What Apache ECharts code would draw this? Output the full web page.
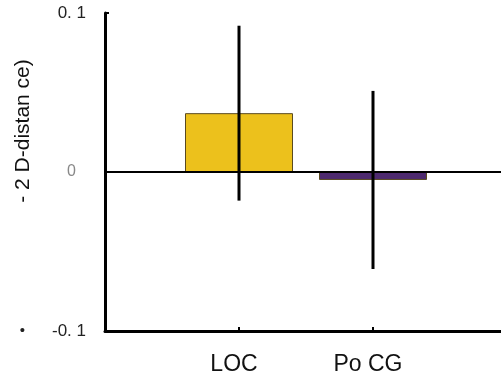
<!DOCTYPE html>
<html><head><meta charset="utf-8">
<script src="https://cdn.jsdelivr.net/npm/echarts@6/dist/echarts.min.js"></script>
<style>html,body{margin:0;padding:0;background:#fff}#c{width:501px;height:383px}</style>
</head><body><div id="c"></div>
<script>
const categories = ['LOC', 'Po CG'];
const meanValues = [0.037, -0.005];
const errLow = [-0.018, -0.061];
const errHigh = [0.092, 0.051];
const barColors = ['#ECC11C', '#4E2A6F'];
const yTicks = [-0.1, 0, 0.1];
const yTickLabels = ['-0. 1', '0', '0. 1'];
const yName = '- 2 D-distan ce)';

const FONT = '"Liberation Sans", Arial, sans-serif';
const axisCats = [''].concat(categories, ['']);
const barData = [null].concat(meanValues.map((v, i) => ({ value: v, itemStyle: { color: barColors[i] } })), [null]);
const errData = categories.map((c, i) => [i + 1, errLow[i], errHigh[i]]);

const chart = echarts.init(document.getElementById('c'), null, { renderer: 'canvas' });
chart.setOption({
  animation: false,
  backgroundColor: '#fff',
  grid: { left: 105, top: 13, bottom: 52, width: 402, containLabel: false, outerBoundsMode: 'none' },
  graphic: [{
    type: 'text',
    x: 23, y: 131,
    rotation: Math.PI / 2,
    style: { text: yName, fontSize: 21, fill: '#111', fontFamily: FONT, align: 'center', verticalAlign: 'middle' }
  }],
  xAxis: {
    type: 'category',
    data: axisCats,
    boundaryGap: false,
    axisLine: { onZero: false, lineStyle: { color: '#000', width: 3 } },
    axisTick: { inside: true, length: 4, lineStyle: { color: '#000', width: 2 },
      interval: (i) => i >= 1 && i <= categories.length },
    axisLabel: { interval: 0, fontSize: 23, color: '#111', margin: 22, fontFamily: FONT, padding: [0, 10, 0, 0] },
    splitLine: { show: false }
  },
  yAxis: {
    type: 'value',
    min: -0.1, max: 0.1, interval: 0.1,
    axisLine: { show: true, lineStyle: { color: '#000', width: 3 } },
    axisTick: { show: true, inside: true, length: 4, lineStyle: { color: '#000', width: 2 } },
    splitLine: { show: false },
    axisLabel: {
      margin: 19,
      fontFamily: FONT,
      formatter: (v) => {
        const idx = yTicks.findIndex(t => Math.abs(t - v) < 1e-9);
        const lab = idx >= 0 ? yTickLabels[idx] : '';
        if (Math.abs(v) < 1e-9) return '{z|' + lab + '}';
        if (v < 0) return '{d|•}{n|' + lab + '}';
        return '{n|' + lab + '}';
      },
      rich: {
        n: { fontSize: 17, color: '#222', fontFamily: FONT },
        z: { fontSize: 16, color: '#888', fontFamily: FONT, padding: [0, 10, 0, 0] },
        d: { fontSize: 15, color: '#222', fontFamily: FONT, padding: [0, 27, 0, 0] }
      }
    }
  },
  series: [
    {
      type: 'bar',
      data: barData,
      barWidth: 108,
      itemStyle: { borderColor: '#5a4a20', borderWidth: 1 },
      markLine: {
        silent: true, symbol: 'none', label: { show: false },
        lineStyle: { color: '#000', width: 2, type: 'solid' },
        data: [{ yAxis: 0 }]
      }
    },
    {
      type: 'custom',
      data: errData,
      z: 10,
      renderItem: (params, api) => {
        const lo = api.coord([api.value(0), api.value(1)]);
        const hi = api.coord([api.value(0), api.value(2)]);
        return { type: 'line', shape: { x1: lo[0], y1: lo[1], x2: hi[0], y2: hi[1] },
          style: { stroke: '#000', lineWidth: 3 } };
      }
    }
  ]
});
</script></body></html>
